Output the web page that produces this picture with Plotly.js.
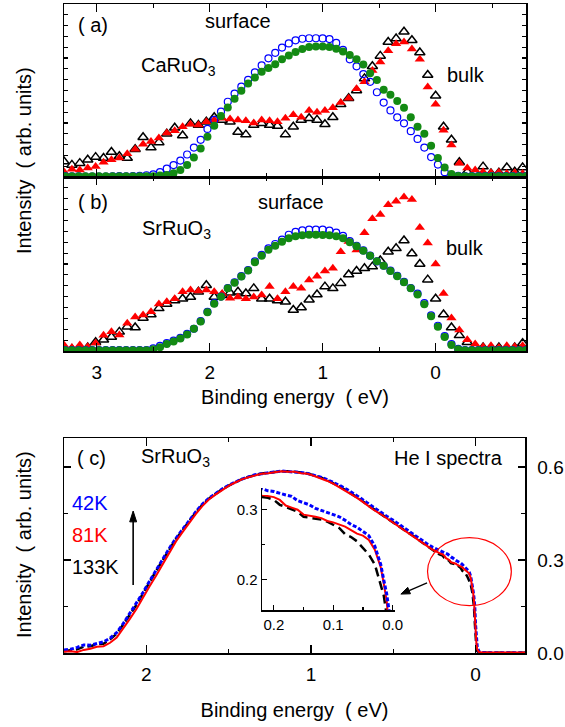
<!DOCTYPE html>
<html><head><meta charset="utf-8">
<script src="https://cdn.plot.ly/plotly-3.0.1.min.js"></script>
<style>html,body{margin:0;padding:0;background:#fff}#chart{width:565px;height:727px}</style>
</head><body><div id="chart"></div>
<script>
// ---- Panels (a),(b): binding energy grids (eV) ----
const xCirc = [3.28,3.22,3.16,3.10,3.04,2.98,2.92,2.86,2.80,2.74,2.68,2.62,2.56,2.50,2.44,2.38,2.32,2.26,2.20,2.14,2.08,2.02,1.96,1.90,1.84,1.78,1.72,1.66,1.60,1.54,1.48,1.42,1.36,1.30,1.24,1.18,1.12,1.06,1.00,0.94,0.88,0.82,0.76,0.70,0.64,0.58,0.52,0.46,0.40,0.34,0.28,0.22,0.16,0.10,0.04,-0.02,-0.08,-0.14,-0.20,-0.26,-0.32,-0.38,-0.44,-0.50,-0.56,-0.62,-0.68,-0.74,-0.80];
const xTri = [3.29,3.22,3.15,3.08,3.01,2.94,2.87,2.80,2.73,2.66,2.59,2.52,2.45,2.38,2.31,2.24,2.17,2.10,2.03,1.96,1.89,1.82,1.75,1.68,1.61,1.54,1.47,1.40,1.33,1.26,1.19,1.12,1.05,0.98,0.91,0.84,0.77,0.70,0.63,0.56,0.49,0.42,0.35,0.28,0.21,0.14,0.07,0.00,-0.07,-0.14,-0.21,-0.28,-0.35,-0.42,-0.49,-0.56,-0.63,-0.70,-0.77];

// (a) CaRuO3
const surfBlueA = [.005,.004,.004,.003,.003,.003,.003,.004,.005,.004,.005,.006,.010,.015,.028,.048,.069,.095,.130,.170,.215,.278,.330,.378,.435,.482,.522,.561,.605,.645,.686,.718,.748,.772,.790,.799,.802,.802,.801,.797,.775,.735,.680,.640,.595,.550,.490,.430,.385,.345,.310,.265,.220,.170,.115,.072,.028,.010,.006,.005,.005,.005,.005,.005,.005,.005,.005,.005,.005];
const surfGreenA = [.004,.004,.004,.004,.004,.004,.004,.004,.004,.004,.004,.004,.004,.004,.008,.012,.022,.040,.070,.113,.165,.232,.296,.352,.402,.452,.498,.540,.575,.608,.630,.652,.680,.702,.722,.740,.752,.755,.755,.752,.742,.725,.705,.680,.650,.600,.560,.505,.475,.440,.400,.345,.290,.250,.180,.110,.055,.018,.006,.004,.004,.004,.004,.004,.004,.004,.004,.004,.004];
const bulkRedA = [.03,.045,.04,.052,.06, .085,.10,.11,.135,.16, .19,.205,.225,.255,.268, .29,.305,.30,.32,.33, .34,.335,.33,.325,.312, .33,.325,.32,.34,.36, .345,.385,.375,.385,.40, .43,.455,.51,.55,.615, .665,.73,.77,.78,.74, .68,.52,.42,.27,.185, .08,.052,.04,.03,.025, .028,.02,.025,.02];
const bulkBlackA = [.09,.07,.08,.10,.115, .11,.145,.12,.11,.16, .23,.17,.20,.25,.285, .24,.31,.30,.32,.345, .33,.32,.26,.245,.30, .31,.30,.295,.245,.29, .33,.34,.33,.305,.345, .42,.455,.50,.57,.64, .70,.78,.80,.84,.79, .72,.59,.47,.29,.215, .085,.03,.025,.06,.02, .025,.055,.03,.055];

// (b) SrRuO3
const surfBlueB = [.005,.005,.005,.005,.005,.005,.005,.005,.005,.005,.005,.005,.005,.015,.030,.045,.060,.075,.098,.128,.172,.225,.275,.313,.362,.395,.430,.465,.515,.552,.590,.615,.640,.668,.685,.693,.697,.698,.698,.692,.680,.662,.632,.605,.578,.548,.515,.490,.462,.432,.397,.362,.330,.275,.205,.145,.085,.040,.012,.005,.005,.005,.005,.005,.005,.005,.005,.005,.005];
const surfGreenB = [.004,.004,.004,.004,.004,.004,.004,.004,.004,.004,.004,.004,.004,.010,.022,.040,.055,.072,.095,.128,.170,.222,.272,.312,.360,.392,.428,.462,.510,.548,.582,.605,.628,.648,.660,.665,.668,.668,.667,.665,.660,.648,.625,.602,.576,.548,.516,.490,.460,.430,.395,.360,.325,.268,.200,.140,.080,.035,.010,.004,.004,.004,.004,.004,.004,.004,.004,.004,.004];
const bulkRedB = [.034,.02,.035,.025,.046, .09,.11,.092,.16,.195, .207,.225,.27,.283,.30, .34,.35,.345,.35,.34, .33,.303,.31,.30,.31, .322,.37,.30,.34,.37, .36,.408,.43,.46,.475, .57,.63,.58,.68,.76, .785,.84,.86,.885,.87, .71,.62,.50,.33,.19, .12,.065,.04,.025,.03, .02,.03,.025,.03];
const bulkBlackB = [.005,.01,.015,.02,.05, .065,.08,.11,.14,.135, .19,.21,.245,.27,.29, .30,.31,.34,.378,.31, .32,.335,.34,.33,.36, .30,.30,.29,.283,.236, .25,.295,.325,.37,.36, .39,.44,.46,.475,.485, .52,.57,.59,.635,.56, .50,.41,.30,.21,.135, .09,.05,.02,.02,.015, .02,.015,.02,.045];

// ---- Panel (c): He I spectra of SrRuO3 ----
const xC = [2.50,2.46,2.42,2.38,2.34,2.30,2.26,2.22,2.18,2.14,2.10,2.06,2.02,1.98,1.94,1.90,1.86,1.82,1.78,1.74,1.70,1.66,1.62,1.58,1.54,1.50,1.46,1.42,1.38,1.34,1.30,1.26,1.22,1.18,1.14,1.10,1.06,1.02,0.98,0.94,0.90,0.86,0.82,0.78,0.74,0.70,0.66,0.62,0.58,0.54,0.50,0.46,0.42,0.38,0.34,0.30,0.26,0.22,
  0.21,0.20,0.19,0.18,0.17,0.16,0.15,0.14,0.13,0.12,0.11,0.10,0.09,0.08,0.07,0.06,0.05,0.04,0.03,0.02,
  0.015,0.01,0.005,0.0,-0.005,-0.01,-0.02,-0.04,-0.1,-0.2,-0.3];
const y42K = [.010,.012,.018,.026,.025,.030,.036,.048,.066,.095,.128,.158,.195,.232,.268,.302,.338,.370,.398,.428,.455,.480,.499,.514,.529,.541,.552,.561,.568,.575,.578,.582,.584,.587,.586,.584,.582,.579,.574,.567,.559,.550,.539,.527,.514,.500,.485,.470,.456,.441,.428,.413,.399,.385,.370,.354,.341,.330,
  .327,.326,.323,.321,.319,.313,.310,.307,.302,.299,.296,.294,.290,.285,.279,.275,.269,.263,.248,.222,
  .200,.180,.150,.090,.040,.020,.005,.002,.001,.001,.001];
const y81K = [.004,.006,.003,.010,.014,.020,.022,.033,.050,.078,.110,.142,.180,.215,.250,.288,.326,.360,.390,.420,.448,.474,.495,.511,.526,.539,.550,.560,.567,.573,.578,.580,.584,.586,.585,.585,.580,.578,.571,.564,.555,.545,.533,.520,.507,.493,.477,.462,.449,.434,.419,.405,.391,.377,.362,.347,.333,.321,
  .320,.318,.314,.306,.303,.300,.293,.292,.290,.288,.284,.282,.279,.276,.271,.266,.263,.257,.243,.218,
  .195,.170,.120,.060,.030,.012,.003,.002,.002,.002,.002];
const y133K = [.006,.010,.012,.020,.022,.028,.030,.044,.062,.092,.124,.155,.192,.230,.265,.300,.336,.368,.396,.426,.453,.478,.498,.513,.528,.540,.551,.561,.568,.574,.579,.582,.585,.586,.586,.585,.582,.579,.573,.566,.557,.547,.535,.522,.509,.495,.479,.464,.450,.436,.421,.406,.392,.378,.362,.346,.332,.318,
  .317,.314,.307,.304,.301,.297,.290,.289,.288,.286,.283,.279,.274,.265,.261,.255,.246,.236,.222,.195,
  .178,.150,.100,.045,.015,.006,.002,.001,.001,.001,.001];
const tempLabels = ['42K','81K','133K'];
const tempColors = ['#0000ff','#ff0000','#000000'];

// ---- layout helpers (pixel -> paper) ----
const W = 565, H = 727;
const px = v => v / W;
const py = v => 1 - v / H;
const FONT = 'Liberation Sans, Arial, Helvetica, sans-serif';

function marks(x, y, xa, ya, symbol, size, color, lw) {
  return {x, y, xaxis: xa, yaxis: ya, type: 'scatter', mode: 'markers', hoverinfo: 'skip',
    marker: {symbol, size, color, line: {color, width: lw}}};
}
function curve(x, y, xa, ya, color, width, dash) {
  return {x, y, xaxis: xa, yaxis: ya, type: 'scatter', mode: 'lines', hoverinfo: 'skip',
    line: {color, width, dash, shape: 'linear'}};
}

const traces = [
  // panel a
  marks(xTri, bulkBlackA, 'x', 'y', 'triangle-up-open', 9, '#000000', 1.5),
  marks(xTri, bulkRedA, 'x', 'y', 'triangle-up', 9, '#ff0000', 0),
  marks(xCirc, surfBlueA, 'x', 'y', 'circle-open', 7, '#0000ff', 1.2),
  marks(xCirc, surfGreenA, 'x', 'y', 'circle', 8, '#138a13', 0),
  // panel b
  marks(xTri, bulkBlackB, 'x2', 'y2', 'triangle-up-open', 9, '#000000', 1.5),
  marks(xTri, bulkRedB, 'x2', 'y2', 'triangle-up', 9, '#ff0000', 0),
  marks(xCirc, surfBlueB, 'x2', 'y2', 'circle-open', 7, '#0000ff', 1.2),
  marks(xCirc, surfGreenB, 'x2', 'y2', 'circle', 8, '#138a13', 0),
  // panel c
  curve(xC, y133K, 'x3', 'y3', tempColors[2], 2.5, '8px,4px'),
  curve(xC, y42K, 'x3', 'y3', tempColors[0], 3, '4px,2px'),
  curve(xC, y81K, 'x3', 'y3', tempColors[1], 2, 'solid'),
  // inset
  curve(xC, y133K, 'x4', 'y4', tempColors[2], 2.5, '9px,5px'),
  curve(xC, y81K, 'x4', 'y4', tempColors[1], 2, 'solid'),
  curve(xC, y42K, 'x4', 'y4', tempColors[0], 3, '4px,2px')
];

const axBase = {showgrid: false, zeroline: false, showline: true, linecolor: '#000', linewidth: 1.5,
  ticks: 'inside', tickcolor: '#000', tickwidth: 1.2, mirror: 'ticks', tickfont: {size: 19, color: '#000', family: FONT}};

const xAB = {range: [3.29, -0.80], tick0: 0, dtick: 1, ticklen: 8,
  minor: {tick0: 0, dtick: 0.5, ticklen: 4, ticks: 'inside', tickcolor: '#000', tickwidth: 1.2}};
const yAB = {range: [0, 1], tick0: 0, dtick: 0.0625, ticklen: 4, showticklabels: false};

const insetAx = {showgrid: false, zeroline: false, showline: true, linecolor: '#000', linewidth: 1.5,
  ticks: 'inside', ticklen: 5, tickwidth: 1.2, tickcolor: '#000', tick0: 0, dtick: 0.1, tickformat: '.1f',
  tickfont: {size: 15, color: '#000', family: FONT},
  minor: {tick0: 0, dtick: 0.05, ticklen: 3, ticks: 'inside', tickcolor: '#000', tickwidth: 1.2}};

const layout = {
  width: W, height: H, margin: {l: 0, r: 0, t: 0, b: 0},
  paper_bgcolor: '#fff', plot_bgcolor: 'rgba(0,0,0,0)', showlegend: false,
  font: {family: FONT, size: 20, color: '#000'},
  xaxis: Object.assign({}, axBase, xAB, {domain: [px(64), px(526)], anchor: 'y', showticklabels: false}),
  yaxis: Object.assign({}, axBase, yAB, {domain: [py(177), py(4)], anchor: 'x'}),
  xaxis2: Object.assign({}, axBase, xAB, {domain: [px(64), px(526)], anchor: 'y2', showticklabels: true,
    ticklabelstandoff: 4,
    title: {text: 'Binding energy\u00a0\u00a0( eV)', font: {size: 20, family: FONT}, standoff: 7}}),
  yaxis2: Object.assign({}, axBase, yAB, {domain: [py(351), py(177)], anchor: 'x2'}),
  xaxis3: Object.assign({}, axBase, {domain: [px(64), px(525)], anchor: 'y3', range: [2.50, -0.30],
    tick0: 0, dtick: 1, ticklen: 8, ticklabelstandoff: 4,
    minor: {tick0: 0, dtick: 0.5, ticklen: 4, ticks: 'inside', tickcolor: '#000', tickwidth: 1.2},
    title: {text: 'Binding energy\u00a0\u00a0( eV)', font: {size: 20, family: FONT}, standoff: 18}}),
  yaxis3: Object.assign({}, axBase, {domain: [py(653), py(438)], anchor: 'x3', side: 'right',
    range: [0, 0.6935], tick0: 0, dtick: 0.3, tickformat: '.1f', ticklen: 7, ticklabelstandoff: 7,
    minor: {tick0: 0, dtick: 0.15, ticklen: 4, ticks: 'inside', tickcolor: '#000', tickwidth: 1.2}}),
  xaxis4: Object.assign({}, insetAx, {domain: [px(262), px(395)], anchor: 'y4', range: [0.22, -0.004]}),
  yaxis4: Object.assign({}, insetAx, {domain: [py(610), py(488)], anchor: 'x4', range: [0.157, 0.331]}),
  shapes: [
    // ellipse marking the Fermi-edge region
    {type: 'circle', xref: 'x3', yref: 'y3', x0: 0.292, x1: -0.217, y0: 0.153, y1: 0.372,
     line: {color: '#ff0000', width: 1.2}},
    // vertical temperature arrow (shaft + head)
    {type: 'line', xref: 'x3', yref: 'y3', x0: 2.08, x1: 2.08, y0: 0.219, y1: 0.43,
     line: {color: '#000', width: 1.6}},
    {type: 'path', xref: 'x3', yref: 'y3', path: 'M 2.101 0.423 L 2.08 0.458 L 2.059 0.423 Z',
     fillcolor: '#000', line: {color: '#000', width: 1}},
    // arrow from ellipse towards inset
    {type: 'line', xref: 'x3', yref: 'y3', x0: 0.295, x1: 0.404, y0: 0.226, y1: 0.2014,
     line: {color: '#000', width: 1.3}},
    {type: 'path', xref: 'x3', yref: 'y3', path: 'M 0.3957 0.1910 L 0.454 0.190 L 0.4123 0.2118 Z',
     fillcolor: '#000', line: {color: '#000', width: 1}}
  ],
  annotations: [
    {text: '( a)', x: px(76), y: py(25), xanchor: 'left'},
    {text: 'surface', x: px(238), y: py(21)},
    {text: 'CaRuO<sub>3</sub>', x: px(139), y: py(67), xanchor: 'left'},
    {text: 'bulk', x: px(466), y: py(75)},
    {text: '( b)', x: px(76), y: py(202), xanchor: 'left'},
    {text: 'surface', x: px(291), y: py(202)},
    {text: 'SrRuO<sub>3</sub>', x: px(140), y: py(229), xanchor: 'left'},
    {text: 'bulk', x: px(465), y: py(248)},
    {text: 'Intensity\u00a0\u00a0( arb. units)', x: px(24), y: py(161), textangle: -90},
    {text: '( c)', x: px(75), y: py(458), xanchor: 'left'},
    {text: 'SrRuO<sub>3</sub>', x: px(139), y: py(457), xanchor: 'left'},
    {text: 'He I spectra', x: px(448), y: py(458)},
    {text: tempLabels[0], x: px(70), y: py(503), xanchor: 'left', font: {color: tempColors[0]}},
    {text: tempLabels[1], x: px(70), y: py(535), xanchor: 'left', font: {color: tempColors[1]}},
    {text: tempLabels[2], x: px(70), y: py(567), xanchor: 'left', font: {color: tempColors[2]}},
    {text: 'Intensity\u00a0\u00a0( arb. units)', x: px(24), y: py(545), textangle: -90}
  ].map(a => Object.assign({xref: 'paper', yref: 'paper', showarrow: false, xanchor: 'center', yanchor: 'middle'}, a,
      {font: Object.assign({family: FONT, size: 20, color: '#000'}, a.font || {})}))
};

Plotly.newPlot('chart', traces, layout, {staticPlot: true, displayModeBar: false});
</script>
</body></html>
